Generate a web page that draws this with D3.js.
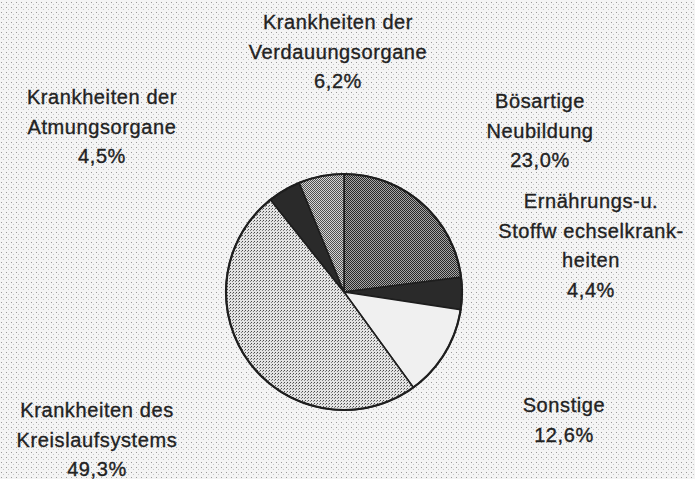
<!DOCTYPE html>
<html>
<head>
<meta charset="utf-8">
<script src="https://cdn.jsdelivr.net/npm/d3@7"></script>
<style>
  body { margin: 0; background: #ececec; }
  text { font-family: "Liberation Sans", Arial, sans-serif; fill: #222; stroke: #222; stroke-width: 0.35px; }
</style>
</head>
<body>
<div id="chart"></div>
<script>
// slices clockwise from 12 o'clock
var categories = ["Bösartige Neubildung", "Ernährungs-u. Stoffwechselkrankheiten", "Sonstige",
                  "Krankheiten des Kreislaufsystems", "Krankheiten der Atmungsorgane",
                  "Krankheiten der Verdauungsorgane"];
var values = [23.0, 4.4, 12.6, 49.3, 4.5, 6.2];
var labelLines = [
  ["Bösartige", "Neubildung"],
  ["Ernährungs-u.", "Stoffw echselkrank-", "heiten"],
  ["Sonstige"],
  ["Krankheiten des", "Kreislaufsystems"],
  ["Krankheiten der", "Atmungsorgane"],
  ["Krankheiten der", "Verdauungsorgane"]
];

var W = 695, H = 479;
var cx = 344, cy = 292, R = 118;
// label anchor: centre x, first baseline y
var labelPos = [[540, 108], [591, 208], [564, 412], [97, 417], [102, 104], [338, 29]];
var lineH = 29.5;

var svg = d3.select("#chart").append("svg")
    .attr("width", W)
    .attr("height", H);

var defs = svg.append("defs");

function checker(id, a, b) {
  var p = defs.append("pattern").attr("id", id)
    .attr("width", 2).attr("height", 2).attr("patternUnits", "userSpaceOnUse");
  p.append("rect").attr("width", 2).attr("height", 2).attr("fill", b);
  p.append("rect").attr("width", 1).attr("height", 1).attr("fill", a);
  p.append("rect").attr("x", 1).attr("y", 1).attr("width", 1).attr("height", 1).attr("fill", a);
}
checker("pBos", "#262626", "#a6a6a6");
checker("pVer", "#505050", "#d6d6d6");

// sparse dots for Kreislauf slice
var pk = defs.append("pattern").attr("id", "pKre")
  .attr("width", 3).attr("height", 3).attr("patternUnits", "userSpaceOnUse");
pk.append("rect").attr("width", 3).attr("height", 3).attr("fill", "#e4e4e4");
pk.append("rect").attr("width", 1).attr("height", 1).attr("fill", "#4a4a4a");
pk.append("rect").attr("x", 2).attr("y", 1).attr("width", 1).attr("height", 1).attr("fill", "#808080");

// background speckle
var pb = defs.append("pattern").attr("id", "pBg")
  .attr("width", 5).attr("height", 5).attr("patternUnits", "userSpaceOnUse");
pb.append("rect").attr("width", 5).attr("height", 5).attr("fill", "#f4f4f4");
pb.append("rect").attr("x", 1).attr("y", 2).attr("width", 1).attr("height", 1).attr("fill", "#9a9a9a");
pb.append("rect").attr("x", 3).attr("y", 4).attr("width", 1).attr("height", 1).attr("fill", "#c8c8c8");

svg.append("rect").attr("width", W).attr("height", H).attr("fill", "url(#pBg)");

var fills = ["url(#pBos)", "#2a2a2a", "#f0f0f0", "url(#pKre)", "#2a2a2a", "url(#pVer)"];

var pie = d3.pie().sort(null).value(function(d){ return d; });
var arc = d3.arc().innerRadius(0).outerRadius(R);

var g = svg.append("g").attr("transform", `translate(${cx},${cy})`);
g.selectAll("path")
  .data(pie(values))
  .enter().append("path")
    .attr("d", arc)
    .attr("fill", function(d, i){ return fills[i]; })
    .attr("stroke", "#1e1e1e")
    .attr("stroke-width", 1.6);

g.append("circle").attr("r", R)
  .attr("fill", "none").attr("stroke", "#1e1e1e").attr("stroke-width", 2.2);

var fmt = function(v){ return v.toFixed(1).replace(".", ",") + "%"; };

categories.forEach(function(c, i){
  var lines = labelLines[i].concat([fmt(values[i])]);
  var t = svg.append("text")
    .attr("text-anchor", "middle")
    .attr("font-size", 20)
    .attr("letter-spacing", 0.6);
  lines.forEach(function(l, j){
    t.append("tspan")
      .attr("x", labelPos[i][0])
      .attr("y", labelPos[i][1] + j * lineH)
      .text(l);
  });
});
</script>
</body>
</html>
